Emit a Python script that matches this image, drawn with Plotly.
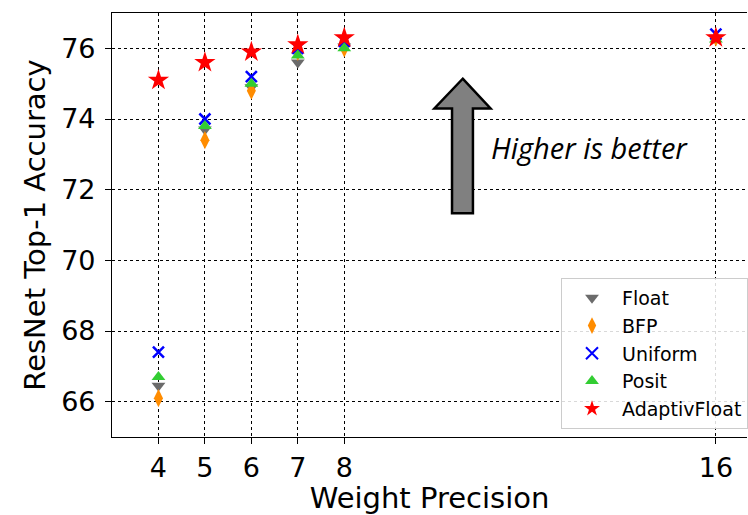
import plotly.graph_objects as go

precision = [4, 5, 6, 7, 8, 16]
float_acc = [66.45, 73.7, 74.9, 75.6, 76.05, 76.3]
bfp_acc = [66.1, 73.4, 74.8, 75.9, 76.0, 76.3]
uniform_acc = [67.4, 74.0, 75.2, 76.0, 76.2, 76.4]
posit_acc = [66.7, 73.8, 75.0, 75.8, 76.0, 76.25]
adaptiv_acc = [75.1, 75.6, 75.9, 76.1, 76.3, 76.3]
y_ticks = [66, 68, 70, 72, 74, 76]

series = [
    ("Float", float_acc, "triangle-down", "#6b6b6b", 12),
    ("BFP", bfp_acc, "diamond-tall", "#ff8c00", 13),
    ("Uniform", uniform_acc, "x-thin", "#0000ff", 11),
    ("Posit", posit_acc, "triangle-up", "#32cd32", 12),
    ("AdaptivFloat", adaptiv_acc, "star", "#ff0000", 16),
]

fig = go.Figure()
for name, vals, sym, col, size in series:
    fig.add_trace(go.Scatter(
        x=precision, y=vals, mode="markers", name=name,
        marker=dict(symbol=sym, color=col, size=size,
                    line=dict(color=col, width=2.5 if sym == "x-thin" else 0)),
    ))

# arrow shape (data coordinates)
arrow = ("M 10.55 75.14 L 11.15 74.30 L 10.77 74.30 L 10.77 71.33 "
         "L 10.32 71.33 L 10.32 74.30 L 9.94 74.30 Z")
fig.add_shape(type="path", path=arrow, xref="x", yref="y",
              fillcolor="#808080", line=dict(color="black", width=2.5))
fig.add_annotation(x=13.29, y=73.2, xref="x", yref="y", text="<i>Higher is better</i>",
                   showarrow=False, font=dict(family="Open Sans", size=29, color="black"))

fig.update_layout(
    width=748, height=515,
    margin=dict(l=112, r=0, t=13, b=78),
    paper_bgcolor="white", plot_bgcolor="white",
    font=dict(family="DejaVu Sans", color="black"),
    showlegend=True,
    legend=dict(x=0.7075, y=0.375, xanchor="left", yanchor="top",
                bgcolor="rgba(255,255,255,0.85)", bordercolor="#cccccc", borderwidth=1,
                font=dict(size=19, family="DejaVu Sans"), itemsizing="constant",
                itemwidth=50, tracegroupgap=0),
    xaxis=dict(range=[3, 16.67], tickvals=precision, ticktext=[str(p) for p in precision],
               showgrid=True, gridcolor="black", griddash="dot", gridwidth=0.7,
               showline=True, linecolor="black", linewidth=1.2, mirror=True,
               ticks="outside", ticklen=6, tickcolor="black",
               tickfont=dict(size=27), zeroline=False,
               title=dict(text="Weight Precision", font=dict(size=29), standoff=6)),
    yaxis=dict(range=[65, 77], tickvals=y_ticks,
               showgrid=True, gridcolor="black", griddash="dot", gridwidth=0.7,
               showline=True, linecolor="black", linewidth=1.2, mirror=False,
               ticks="outside", ticklen=6, tickcolor="black", ticklabelstandoff=4,
               tickfont=dict(size=27), zeroline=False,
               title=dict(text="ResNet Top-1 Accuracy", font=dict(size=29), standoff=6)),
)

fig.write_html("out.html", post_script="document.body.style.margin='0px';",
               config={"displayModeBar": False})
